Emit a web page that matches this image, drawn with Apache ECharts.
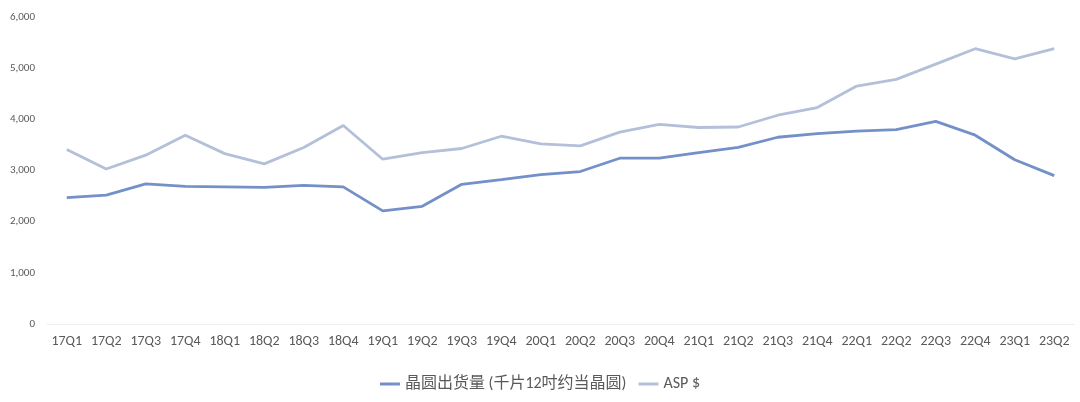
<!DOCTYPE html>
<html>
<head>
<meta charset="utf-8">
<script src="https://cdn.jsdelivr.net/npm/echarts@6/dist/echarts.min.js"></script>
<style>
html, body { margin: 0; padding: 0; background: #fff; }
#chart { width: 1080px; height: 402px; }
</style>
</head>
<body>
<div id="chart"></div>
<script>
// 季度
const quarters = ["17Q1", "17Q2", "17Q3", "17Q4", "18Q1", "18Q2", "18Q3", "18Q4",
    "19Q1", "19Q2", "19Q3", "19Q4", "20Q1", "20Q2", "20Q3", "20Q4",
    "21Q1", "21Q2", "21Q3", "21Q4", "22Q1", "22Q2", "22Q3", "22Q4", "23Q1", "23Q2"]

// 晶圆出货量 (千片12吋约当晶圆)
const shipments = [2470, 2520, 2740, 2690, 2680, 2670, 2710, 2680,
    2210, 2300, 2730, 2820, 2920, 2980, 3240, 3240,
    3350, 3450, 3650, 3720, 3770, 3800, 3960, 3690, 3210, 2900]

// ASP $
const asp = [3410, 3030, 3300, 3690, 3330, 3130, 3450, 3880,
    3220, 3350, 3430, 3670, 3520, 3480, 3750, 3900,
    3840, 3850, 4080, 4230, 4650, 4780, 5080, 5380, 5180, 5380]

const seriesNames = ["晶圆出货量 (千片12吋约当晶圆)", "ASP $"]

const chart = echarts.init(document.getElementById("chart"), null, {renderer: "canvas"})

const font = "Calibri, Carlito, 'Liberation Sans', 'Noto Sans CJK SC', sans-serif"

const option = {
    animation: false,
    textStyle: {fontFamily: font},
    legend: {
        data: seriesNames,
        bottom: 5,
        left: "center",
        itemWidth: 20,
        itemHeight: 3,
        itemGap: 12,
        icon: "rect",
        textStyle: {color: "#595959", fontSize: 16, fontFamily: font}
    },
    grid: {
        left: 47,
        right: 6,
        top: 17,
        bottom: 78
    },
    xAxis: {
        type: "category",
        data: quarters,
        boundaryGap: true,
        axisLine: {lineStyle: {color: "#eeeeee", width: 1}},
        axisTick: {show: false},
        axisLabel: {color: "#595959", fontSize: 14, margin: 11, interval: 0}
    },
    yAxis: {
        type: "value",
        min: 0,
        max: 6000,
        interval: 1000,
        splitLine: {show: false},
        axisLine: {show: false},
        axisTick: {show: false},
        axisLabel: {
            color: "#595959",
            fontSize: 11,
            margin: 12,
            formatter: v => v.toLocaleString("en-US")
        }
    },
    series: [
        {
            name: seriesNames[0],
            type: "line",
            data: shipments,
            symbol: "none",
            itemStyle: {color: "#7490c8"},
            lineStyle: {color: "#7490c8", width: 2.8}
        },
        {
            name: seriesNames[1],
            type: "line",
            data: asp,
            symbol: "none",
            itemStyle: {color: "#b4c0da"},
            lineStyle: {color: "#b4c0da", width: 2.8}
        }
    ]
}

chart.setOption(option)
</script>
</body>
</html>
